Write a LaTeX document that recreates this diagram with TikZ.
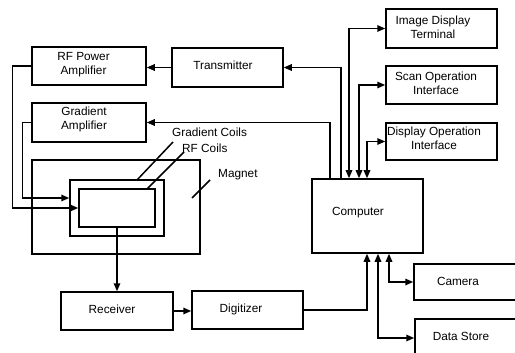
\documentclass[tikz,border=0pt]{standalone}
\usepackage{fontspec}
\setmainfont{Liberation Sans}
\usetikzlibrary{arrows.meta}
\begin{document}
\begin{tikzpicture}[x=1pt,y=-1pt,
  box/.style={draw, line width=1.5pt, rectangle, inner sep=0pt, align=center, font=\fontsize{11.8}{14}\selectfont},
  lbl/.style={inner sep=0pt, align=center, font=\fontsize{11.8}{14}\selectfont},
  conn/.style={line width=1.5pt},
  arr/.style={line width=1.5pt, -{Triangle[length=8pt,width=6.5pt]}},
  darr/.style={line width=1.5pt, {Triangle[length=8pt,width=6.5pt]}-{Triangle[length=8pt,width=6.5pt]}}]
\clip (0,0) rectangle (515,353);
\fill[white] (0,0) rectangle (515,353);
% boxes
\node[box, minimum width=114, minimum height=38] (rfamp) at (89,66) {};
\node[lbl] (rfampt) at (83.5,65) {RF Power\\Amplifier};
\node[box, minimum width=111, minimum height=39] (tx) at (227.5,67.5) {};
\node[lbl] (txt) at (223,65) {Transmitter};
\node[box, minimum width=114, minimum height=39] (gamp) at (89,122.5) {};
\node[lbl] (gampt) at (84,119) {Gradient\\Amplifier};
\node[box, minimum width=111, minimum height=39] (idt) at (441.5,28.5) {};
\node[lbl] (idtt) at (433,27) {Image Display\\Terminal};
\node[box, minimum width=111, minimum height=38] (soi) at (441.5,85) {};
\node[lbl] (soit) at (436,83) {Scan Operation\\Interface};
\node[box, minimum width=111, minimum height=37] (doi) at (441.5,141.5) {};
\node[lbl] (doit) at (434,138) {Display Operation\\Interface};
\node[box, minimum width=111, minimum height=74] (comp) at (367.5,216) {};
\node[lbl] (compt) at (358,213) {Computer};
\node[box, minimum width=111, minimum height=36] (cam) at (469.5,282) {};
\node[lbl] (camt) at (458,281) {Camera};
\node[box, minimum width=111, minimum height=46] (ds) at (470.5,342) {};
\node[lbl] (dst) at (461,336) {Data Store};
\node[box, minimum width=112, minimum height=38] (rx) at (117,311) {};
\node[lbl] (rxt) at (112,309) {Receiver};
\node[box, minimum width=111, minimum height=38] (dig) at (247.5,310) {};
\node[lbl] (digt) at (241,309) {Digitizer};
\node[box, minimum width=168, minimum height=94] (mag) at (116,207) {};
\node[box, minimum width=94, minimum height=56] (gc) at (117,208) {};
\node[box, minimum width=76, minimum height=38] (rfc) at (117,208) {};
% labels
\node[lbl, anchor=west] (gcl) at (172,132) {Gradient Coils};
\node[lbl, anchor=west] (rfcl) at (182,148) {RF Coils};
\node[lbl, anchor=west] (magl) at (218,175) {Magnet};
\coordinate (gcs) at (173,142);
\coordinate (rfcs) at (184,152);
\coordinate (mags) at (210,180);
\coordinate (mage) at (192,198);
\draw[conn] (gcs) -- (137,180);
\draw[conn] (rfcs) -- (147,189);
\draw[conn] (mags) -- (mage);
% connectors
\draw[arr] (tx.west) -- (tx.west -| rfamp.east);
\draw[arr] ([xshift=-26.5pt]comp.north) |- (tx.east);
\draw[arr] ([xshift=-37.5pt]comp.north) |- (gamp.east);
\draw[darr] ([xshift=-18.5pt]comp.north) |- (idt.west);
\draw[darr] ([xshift=-8.5pt]comp.north) |- (soi.west);
\draw[darr] ([xshift=-0.5pt]comp.north) |- (doi.west);
\draw[arr] (dig.east) -| ([xshift=-0.5pt]comp.south);
\draw[darr] ([xshift=10.5pt]comp.south) |- ([yshift=4pt]ds.west);
\draw[darr] ([xshift=21.5pt]comp.south) |- (cam.west);
\draw[arr] (rfamp.west) -- ++(-19,0) |- (rfc.west);
\draw[arr] (gamp.west) -- ++(-9,0) |- ([yshift=10pt]gc.west);
\draw[arr] (rfc.south) -- (rx.north);
\draw[arr] (rx.east) -- (rx.east -| dig.west);
\end{tikzpicture}
\end{document}
